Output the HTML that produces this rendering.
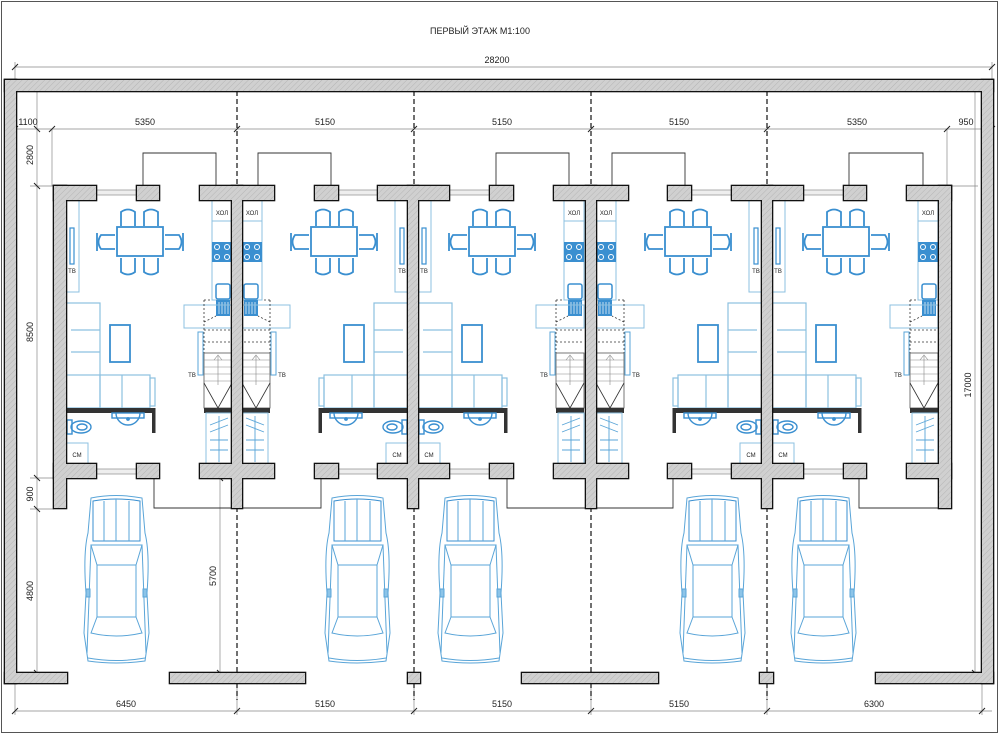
<!DOCTYPE html>
<html><head><meta charset="utf-8"><style>
html,body{margin:0;padding:0;background:#fff;}
svg{display:block;}
text{font-family:"Liberation Sans",sans-serif;fill:#222;}
</style></head><body>
<svg width="1000" height="738" viewBox="0 0 1000 738" xmlns="http://www.w3.org/2000/svg">
<defs>
<pattern id="h" width="4" height="4" patternUnits="userSpaceOnUse" patternTransform="rotate(45)">
<rect width="4" height="4" fill="#d0d0d0"/><line x1="0" y1="0" x2="0" y2="4" stroke="#b5b5b5" stroke-width="1"/>
</pattern>
<g id="car" fill="none" stroke="#5aa5d8" stroke-width="1">
<path d="M8,5 Q33,0 59,5 L62,40 Q67,60 64,100 L66,140 L62,168 Q33,172 5,168 L1,140 L3,100 Q0,60 5,40 Z"/>
<path d="M10,8 Q33,4 57,8 L57,48 L10,48 Z" stroke="#3a8fd0"/>
<line x1="21" y1="8" x2="21" y2="48"/><line x1="33" y1="6" x2="33" y2="48"/><line x1="46" y1="8" x2="46" y2="48"/>
<path d="M8,52 L59,52 L53,72 L14,72 Z"/>
<rect x="14" y="72" width="39" height="52"/>
<path d="M14,124 L8,140 Q33,146 59,140 L53,124"/>
<line x1="8" y1="52" x2="4" y2="160"/><line x1="59" y1="52" x2="63" y2="160"/>
<path d="M5,165 Q33,170 62,165"/>
<rect x="3" y="96" width="4" height="8" fill="#8cc4e8"/><rect x="60" y="96" width="4" height="8" fill="#8cc4e8"/>
</g>
<g id="ua">
<rect x="0" y="200" width="13" height="92" fill="none" stroke="#8cc0e0" stroke-width="1"/>
<rect x="4" y="228" width="4" height="36" fill="none" stroke="#3a8fd0" stroke-width="1.2"/>
<g fill="none" stroke="#3a8fd0" stroke-width="1.8">
<rect x="51" y="227" width="46" height="29"/>
<path d="M55,226 L55,212 Q62,207 69,212 L69,226"/><path d="M78,226 L78,212 Q85,207 92,212 L92,226"/>
<path d="M55,258 L55,272 Q62,277 69,272 L69,258"/><path d="M78,258 L78,272 Q85,277 92,272 L92,258"/>
<path d="M49,235 L35,235 Q30,242 35,249 L49,249"/><path d="M99,235 L113,235 Q118,242 113,249 L99,249"/>
<line x1="31" y1="233" x2="31" y2="251"/><line x1="117" y1="233" x2="117" y2="251"/>
<rect x="44" y="325" width="20" height="37"/>
</g>
<rect x="146" y="200" width="20" height="100" fill="none" stroke="#8cc0e0" stroke-width="1"/>
<line x1="146" y1="221" x2="166" y2="221" stroke="#8cc0e0"/>
<rect x="146" y="242" width="20" height="20" fill="#3a8fd0"/>
<g fill="none" stroke="#fff" stroke-width="1"><circle cx="151" cy="247" r="2.5"/><circle cx="161" cy="247" r="2.5"/><circle cx="151" cy="257" r="2.5"/><circle cx="161" cy="257" r="2.5"/></g>
<rect x="150" y="284" width="14" height="15" rx="2" fill="none" stroke="#3a8fd0" stroke-width="1.5"/>
<rect x="150" y="300" width="14" height="16" fill="#3a8fd0"/>
<g stroke="#fff" stroke-width="0.7"><line x1="153" y1="302" x2="153" y2="314"/><line x1="156" y1="302" x2="156" y2="314"/><line x1="159" y1="302" x2="159" y2="314"/><line x1="162" y1="302" x2="162" y2="314"/></g>
<rect x="118" y="305" width="48" height="23" fill="none" stroke="#8cc0e0" stroke-width="1"/>
<g fill="none" stroke="#333" stroke-width="0.8" stroke-dasharray="2 2">
<line x1="138" y1="300" x2="138" y2="353"/><line x1="138" y1="330" x2="166" y2="330"/><line x1="138" y1="342" x2="166" y2="342"/><line x1="138" y1="300" x2="146" y2="300"/><line x1="138" y1="322" x2="150" y2="316"/>
</g>
<rect x="132" y="332" width="5" height="43" fill="none" stroke="#5aa5d8" stroke-width="1"/>
<rect x="138" y="353" width="28" height="55" fill="none" stroke="#555" stroke-width="0.8"/>
<g stroke="#888" stroke-width="0.6"><line x1="138" y1="360" x2="166" y2="360"/><line x1="138" y1="367" x2="166" y2="367"/><line x1="138" y1="374" x2="166" y2="374"/><line x1="138" y1="381" x2="166" y2="381"/><line x1="152" y1="356" x2="152" y2="385"/><path d="M148,360 L152,355 L156,360" fill="none"/></g>
<path d="M138,383 L152,408 L166,383" fill="none" stroke="#333" stroke-width="0.8"/>
<rect x="138" y="408" width="28" height="5" fill="#333"/>
<rect x="140" y="413" width="26" height="51" fill="none" stroke="#8cc0e0" stroke-width="1"/>
<g stroke="#5aa5d8" stroke-width="0.9" fill="none"><path d="M144,425 L162,418 M144,432 L162,425 M144,440 L162,440 M144,450 L162,450 M153,416 L153,462"/></g>
<g fill="none" stroke="#8cc0e0" stroke-width="1.2">
<rect x="0" y="303" width="34" height="105"/><rect x="0" y="375" width="84" height="33"/>
<line x1="5" y1="330" x2="34" y2="330"/><line x1="5" y1="352" x2="34" y2="352"/>
<line x1="34" y1="375" x2="34" y2="408"/><line x1="56" y1="375" x2="56" y2="408"/>
<rect x="84" y="378" width="5" height="28"/>
</g>
<rect x="0" y="408" width="89" height="5" fill="#333"/>
<rect x="86" y="408" width="3.5" height="25" fill="#333"/>
<g fill="none" stroke="#3a8fd0" stroke-width="1.4">
<path d="M50,413 A12,12 0 0 0 74,413"/><rect x="46" y="413" width="32" height="5"/><circle cx="62" cy="419" r="1.2" fill="#3a8fd0"/>
<ellipse cx="15" cy="427" rx="10" ry="6"/><rect x="1" y="420" width="5" height="14"/><ellipse cx="16" cy="427" rx="5" ry="3"/>
</g>
<rect x="0" y="443" width="22" height="21" fill="none" stroke="#8cc0e0" stroke-width="1"/>
</g>
<g id="wr">
<rect x="5" y="80" width="988" height="11"/><rect x="5" y="80" width="11" height="603"/><rect x="982" y="80" width="11" height="603"/>
<rect x="5" y="673" width="62" height="10"/><rect x="170" y="673" width="135" height="10"/><rect x="408" y="673" width="12" height="10"/><rect x="522" y="673" width="136" height="10"/><rect x="760" y="673" width="13" height="10"/><rect x="876" y="673" width="117" height="10"/>
<rect x="54" y="186" width="12" height="322"/><rect x="232" y="186" width="10" height="322"/><rect x="408" y="186" width="10" height="322"/><rect x="586" y="186" width="10" height="322"/><rect x="762" y="186" width="10" height="322"/><rect x="939" y="186" width="12" height="322"/>
<rect x="54" y="186" width="42" height="14"/><rect x="137" y="186" width="22" height="14"/><rect x="200" y="186" width="74" height="14"/><rect x="315" y="186" width="23" height="14"/><rect x="378" y="186" width="71" height="14"/><rect x="490" y="186" width="23" height="14"/><rect x="554" y="186" width="74" height="14"/><rect x="668" y="186" width="23" height="14"/><rect x="732" y="186" width="71" height="14"/><rect x="844" y="186" width="22" height="14"/><rect x="907" y="186" width="44" height="14"/>
<rect x="54" y="464" width="42" height="14"/><rect x="137" y="464" width="22" height="14"/><rect x="200" y="464" width="74" height="14"/><rect x="315" y="464" width="23" height="14"/><rect x="378" y="464" width="71" height="14"/><rect x="490" y="464" width="23" height="14"/><rect x="554" y="464" width="74" height="14"/><rect x="668" y="464" width="23" height="14"/><rect x="732" y="464" width="71" height="14"/><rect x="844" y="464" width="22" height="14"/><rect x="907" y="464" width="44" height="14"/>
</g>
</defs>

<rect x="1.5" y="1.5" width="996" height="731" fill="none" stroke="#555" stroke-width="1"/>
<text x="480" y="34" font-size="9" text-anchor="middle">ПЕРВЫЙ ЭТАЖ М1:100</text>

<g stroke="#888" stroke-width="0.7" fill="none">
<line x1="15" y1="67" x2="992" y2="67"/><line x1="15" y1="62" x2="15" y2="80"/><line x1="992" y1="62" x2="992" y2="80"/>
<line x1="15" y1="129" x2="992" y2="129"/>
<line x1="52" y1="129" x2="52" y2="186"/><line x1="947" y1="129" x2="947" y2="186"/>
<line x1="37" y1="91" x2="37" y2="673"/>
<line x1="30" y1="186" x2="54" y2="186"/><line x1="30" y1="478" x2="54" y2="478"/><line x1="30" y1="509" x2="54" y2="509"/>
<line x1="220" y1="478" x2="220" y2="673"/>
<line x1="975" y1="91" x2="975" y2="673"/><line x1="951" y1="186" x2="978" y2="186"/>
<line x1="15" y1="711" x2="992" y2="711"/><line x1="15" y1="683" x2="15" y2="715"/><line x1="982" y1="683" x2="982" y2="715"/>
<line x1="237" y1="683" x2="237" y2="715"/><line x1="414" y1="683" x2="414" y2="715"/><line x1="591" y1="683" x2="591" y2="715"/><line x1="767" y1="683" x2="767" y2="715"/>
</g>
<g stroke="#222" stroke-width="1">
<path d="M12,70 l6,-6 M989,70 l6,-6 M12,132 l6,-6 M49,132 l6,-6 M234,132 l6,-6 M411,132 l6,-6 M588,132 l6,-6 M764,132 l6,-6 M944,132 l6,-6 M989,132 l6,-6"/>
<path d="M34,126 l6,6 M34,183 l6,6 M34,475 l6,6 M34,506 l6,6 M34,670 l6,6 M217,475 l6,6 M217,670 l6,6 M972,670 l6,6"/>
<path d="M12,714 l6,-6 M234,714 l6,-6 M411,714 l6,-6 M588,714 l6,-6 M764,714 l6,-6 M979,714 l6,-6"/>
</g>
<g font-size="9" text-anchor="middle">
<text x="497" y="63">28200</text>
<text x="28" y="125">1100</text><text x="145" y="125">5350</text><text x="325" y="125">5150</text><text x="502" y="125">5150</text><text x="679" y="125">5150</text><text x="857" y="125">5350</text><text x="966" y="125">950</text>
<text x="126" y="707">6450</text><text x="325" y="707">5150</text><text x="502" y="707">5150</text><text x="679" y="707">5150</text><text x="874" y="707">6300</text>
<text transform="translate(33,155) rotate(-90)">2800</text>
<text transform="translate(33,332) rotate(-90)">8500</text>
<text transform="translate(33,494) rotate(-90)">900</text>
<text transform="translate(33,591) rotate(-90)">4800</text>
<text transform="translate(216,576) rotate(-90)">5700</text>
<text transform="translate(971,385) rotate(-90)">17000</text>
</g>

<g stroke="#111" stroke-width="1.2" stroke-dasharray="5 3">
<line x1="237" y1="91" x2="237" y2="700"/><line x1="414" y1="91" x2="414" y2="700"/><line x1="591" y1="91" x2="591" y2="700"/><line x1="767" y1="91" x2="767" y2="700"/>
</g>

<g stroke="#333" stroke-width="0.9" fill="none">
<path d="M143,186 V153 H216 V186"/><path d="M258,186 V153 H331 V186"/><path d="M496,186 V153 H569 V186"/><path d="M612,186 V153 H685 V186"/><path d="M849,186 V153 H923 V186"/>
<path d="M154,478 V508 H321 V478"/><path d="M507,478 V508 H673 V478"/><path d="M859,478 V508 H940"/>
</g>

<g stroke="#999" stroke-width="0.8" fill="#eee">
<rect x="96" y="190" width="41" height="5"/><rect x="338" y="190" width="40" height="5"/><rect x="449" y="190" width="41" height="5"/><rect x="691" y="190" width="41" height="5"/><rect x="803" y="190" width="41" height="5"/>
<rect x="96" y="469" width="41" height="5"/><rect x="338" y="469" width="40" height="5"/><rect x="449" y="469" width="41" height="5"/><rect x="691" y="469" width="41" height="5"/><rect x="803" y="469" width="41" height="5"/>
</g>

<use href="#ua" transform="translate(66,0)"/>
<use href="#ua" transform="translate(408,0) scale(-1,1)"/>
<use href="#ua" transform="translate(418,0)"/>
<use href="#ua" transform="translate(762,0) scale(-1,1)"/>
<use href="#ua" transform="translate(772,0)"/>
<g font-size="6" text-anchor="middle" fill="#555">
<text x="222" y="215">ХОЛ</text><text x="72" y="273">ТВ</text><text x="192" y="377">ТВ</text><text x="77" y="457">СМ</text>
<text x="252" y="215">ХОЛ</text><text x="402" y="273">ТВ</text><text x="282" y="377">ТВ</text><text x="397" y="457">СМ</text>
<text x="574" y="215">ХОЛ</text><text x="424" y="273">ТВ</text><text x="544" y="377">ТВ</text><text x="429" y="457">СМ</text>
<text x="606" y="215">ХОЛ</text><text x="756" y="273">ТВ</text><text x="636" y="377">ТВ</text><text x="751" y="457">СМ</text>
<text x="928" y="215">ХОЛ</text><text x="778" y="273">ТВ</text><text x="898" y="377">ТВ</text><text x="783" y="457">СМ</text>
</g>

<use href="#car" transform="translate(83,493)"/>
<use href="#car" transform="translate(324,493)"/>
<use href="#car" transform="translate(437,493)"/>
<use href="#car" transform="translate(679,493)"/>
<use href="#car" transform="translate(790,493)"/>

<use href="#wr" stroke="#111" stroke-width="2.6" fill="#111"/>
<use href="#wr" stroke="none" fill="url(#h)"/>
</svg>
</body></html>
